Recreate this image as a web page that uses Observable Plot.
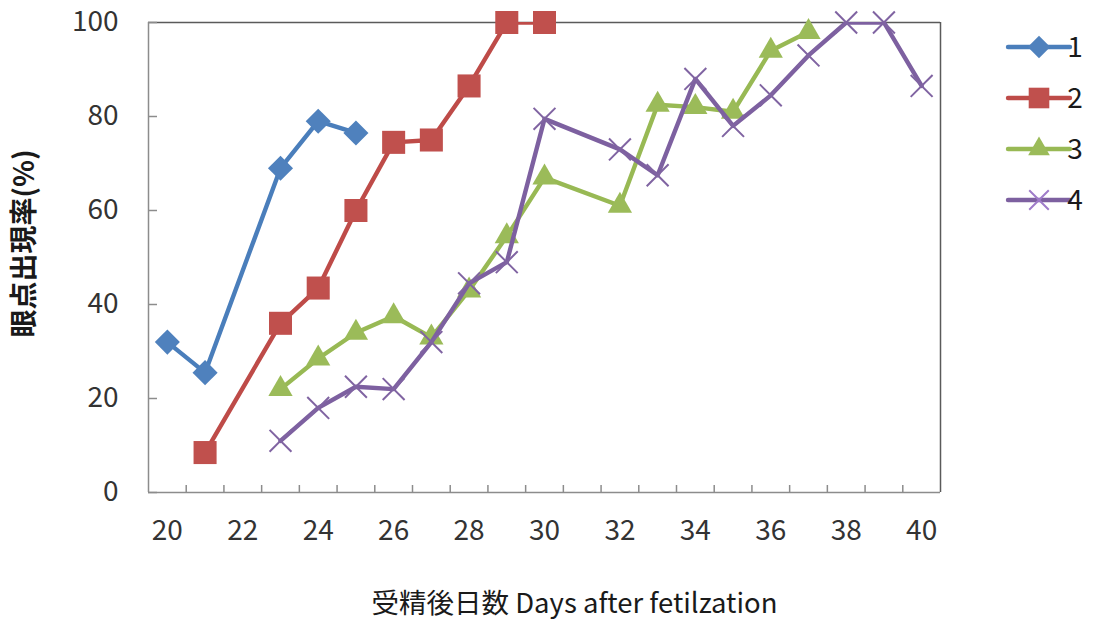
<!DOCTYPE html>
<html>
<head>
<meta charset="utf-8">
<script src="https://cdn.jsdelivr.net/npm/d3@7"></script>
<script src="https://cdn.jsdelivr.net/npm/@observablehq/plot@0.6"></script>
<style>
  html, body { margin: 0; padding: 0; background: #fff; }
  #chart { width: 1096px; height: 628px; position: relative; }
</style>
</head>
<body>
<div id="chart"></div>
<script>
// Eyed-egg appearance rate (%) by days after fertilization, four lots
const days1 = [20, 21, 23, 24, 25];
const rate1 = [32, 25.5, 69, 79, 76.5];

const days2 = [21, 23, 24, 25, 26, 27, 28, 29, 30];
const rate2 = [8.5, 36, 43.5, 60, 74.5, 75, 86.5, 100, 100];

const days3 = [23, 24, 25, 26, 27, 28, 29, 30, 32, 33, 34, 35, 36, 37];
const rate3 = [22, 28.5, 34, 37.5, 33, 43, 54.5, 67, 61, 82.5, 82, 81, 94, 98];

const days4 = [23, 24, 25, 26, 27, 28, 29, 30, 32, 33, 34, 35, 36, 37, 38, 39, 40];
const rate4 = [11, 18, 22.5, 22, 32, 44.5, 49, 79.5, 73, 67.5, 88, 78, 84.5, 93, 100, 100, 86.5];

const seriesNames = ["1", "2", "3", "4"];
const yTicks = [0, 20, 40, 60, 80, 100];
const xTickLabels = [20, 22, 24, 26, 28, 30, 32, 34, 36, 38, 40];
const yTitle = "眼点出現率(%)";
const xTitle = "受精後日数 Days after fetilzation";

// styling per series
const lineColors = ["#4A7EBB", "#BE4B48", "#98B954", "#7D60A0"];
const markerColors = ["#4F81BD", "#C0504D", "#9BBB59", "#8064A2"];
const markerSymbols = ["diamond2", "square", "triangle", "times"];
const markerR = [11.3, 13, 9, 10];
const d3Symbols = [d3.symbolDiamond2, d3.symbolSquare, d3.symbolTriangle, d3.symbolTimes];

const series = [[days1, rate1], [days2, rate2], [days3, rate3], [days4, rate4]]
  .map(([days, rates], i) => days.map((d, j) => ({day: d, rate: rates[j], s: seriesNames[i]})));

// day categories run 20..40; ticks sit on the boundaries between them
const xDomain = [19.5, 40.5];
const xCategoryEdges = d3.range(20.5, 40.5, 1);

const tickFont = "'Noto Sans CJK JP', 'Open Sans', sans-serif";
const axisGray = "#8c8c8c";
const frameDark = "#5a5a5a";
const textColor = "#333";

const marks = [
  // plot-area frame
  Plot.ruleY([100], {stroke: frameDark, strokeWidth: 1.5}),
  Plot.ruleX([xDomain[1]], {stroke: frameDark, strokeWidth: 1.5}),
  Plot.ruleY([0], {stroke: axisGray, strokeWidth: 1.5}),
  Plot.ruleX([xDomain[0]], {stroke: axisGray, strokeWidth: 1.5}),
  // inward tick marks
  Plot.axisY({ticks: yTicks, tickSize: 9, dx: 9, fill: "none", stroke: axisGray, strokeWidth: 1.5, label: null}),
  Plot.axisX({ticks: xCategoryEdges, tickSize: 7, dy: -7, fill: "none", stroke: axisGray, strokeWidth: 1.5, label: null}),
  // tick labels
  Plot.axisY({ticks: yTicks, tickSize: 0, tickPadding: 30, fill: textColor, fontSize: 28, fontFamily: tickFont, label: null, tickFormat: d => String(d)}),
  Plot.axisX({ticks: xTickLabels, tickSize: 0, tickPadding: 28, fill: textColor, fontSize: 28, fontFamily: tickFont, label: null, tickFormat: d => String(d)}),
  // axis titles
  Plot.text([yTitle], {frameAnchor: "left", dx: -123, dy: -14, rotate: -90, text: d => d, textAnchor: "middle",
    fontSize: 28, fontWeight: "bold", fontFamily: "'Noto Sans CJK JP', sans-serif", fill: "#1a1a1a", lineAnchor: "middle"}),
  Plot.text([xTitle], {frameAnchor: "bottom", dx: 30, dy: 112, text: d => d, textAnchor: "middle",
    fontSize: 27.5, fontFamily: "'Noto Sans CJK JP', sans-serif", fill: "#1a1a1a", lineAnchor: "middle"})
];

series.forEach((data, i) => {
  marks.push(Plot.line(data, {x: "day", y: "rate", stroke: lineColors[i], strokeWidth: 4.4,
    strokeLinejoin: "round", strokeLinecap: "round", clip: true}));
  if (markerSymbols[i] === "times") {
    marks.push(Plot.dot(data, {x: "day", y: "rate", symbol: markerSymbols[i], r: markerR[i],
      fill: "none", stroke: markerColors[i], strokeWidth: 2}));
  } else {
    marks.push(Plot.dot(data, {x: "day", y: "rate", symbol: markerSymbols[i], r: markerR[i],
      fill: markerColors[i], stroke: "none"}));
  }
});

const chart = Plot.plot({
  width: 1096,
  height: 628,
  marginLeft: 148,
  marginRight: 156,
  marginTop: 22,
  marginBottom: 136,
  style: {fontFamily: tickFont, background: "#fff", overflow: "visible"},
  x: {domain: xDomain},
  y: {domain: [0, 100]},
  marks
});

document.getElementById("chart").appendChild(chart);

// legend at the right of the plot area
const svg = d3.select(chart);
const legend = svg.append("g").attr("class", "legend");
const legendX0 = 1008, legendX1 = 1070, legendTextX = 1075, legendY0 = 47, legendStep = 51;
seriesNames.forEach((name, i) => {
  const y = legendY0 + i * legendStep;
  const g = legend.append("g");
  g.append("line")
    .attr("x1", legendX0).attr("x2", legendX1).attr("y1", y).attr("y2", y)
    .attr("stroke", lineColors[i]).attr("stroke-width", 4.4).attr("stroke-linecap", "round");
  const size = Math.PI * markerR[i] * markerR[i] * 0.8;
  const path = g.append("path")
    .attr("transform", `translate(${(legendX0 + legendX1) / 2},${y})`)
    .attr("d", d3.symbol(d3Symbols[i], size)());
  if (markerSymbols[i] === "times") {
    path.attr("fill", "none").attr("stroke", d3.color(markerColors[i]).brighter(0.6)).attr("stroke-width", 2);
  } else {
    path.attr("fill", markerColors[i]);
  }
  g.append("text")
    .attr("x", legendTextX).attr("y", y).attr("dy", "0.35em")
    .attr("font-size", 28).attr("font-family", tickFont).attr("fill", "#1a1a1a")
    .text(name);
});
</script>
</body>
</html>
